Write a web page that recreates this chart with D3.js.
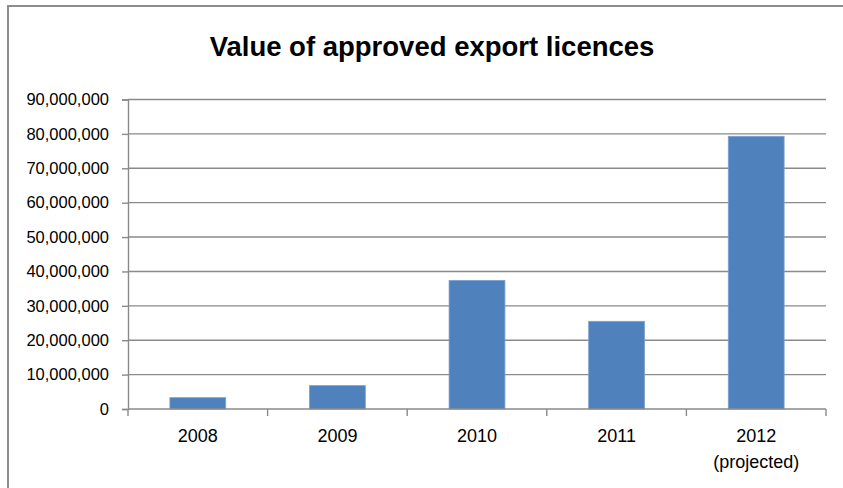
<!DOCTYPE html>
<html>
<head>
<meta charset="utf-8">
<script src="https://cdn.jsdelivr.net/npm/d3@7"></script>
<style>
  html, body { margin: 0; padding: 0; background: #fff; }
  svg { display: block; }
  text { font-family: "Liberation Sans", Arial, sans-serif; fill: #000; }
</style>
</head>
<body>
<svg id="chart" width="843" height="488"></svg>
<script>
const title = "Value of approved export licences";
const categories = ["2008", "2009", "2010", "2011", "2012"];
const categorySubLabels = ["", "", "", "", "(projected)"];
const values = [3300000, 6800000, 37400000, 25500000, 79300000];
const yTicks = [0, 10000000, 20000000, 30000000, 40000000, 50000000, 60000000, 70000000, 80000000, 90000000];

const W = 843, H = 488;
const margin = { left: 128, right: 17, top: 99.5, bottom: 79 };
const svg = d3.select("#chart");

// outer chart border (extends past the right and bottom edges)
svg.append("rect")
  .attr("x", 8).attr("y", 6)
  .attr("width", W + 20).attr("height", H + 20)
  .attr("fill", "#fff")
  .attr("stroke", "#8c8c8c")
  .attr("stroke-width", 2);

const x = d3.scaleBand()
  .domain(categories)
  .range([margin.left, W - margin.right])
  .paddingInner(0.6)
  .paddingOuter(0.3);

const y = d3.scaleLinear()
  .domain([0, 90000000])
  .range([H - margin.bottom, margin.top]);

// gridlines
svg.append("g")
  .selectAll("line")
  .data(yTicks.filter(d => d > 0))
  .join("line")
  .attr("x1", margin.left).attr("x2", W - margin.right)
  .attr("y1", d => y(d)).attr("y2", d => y(d))
  .attr("stroke", "#8a8a8a")
  .attr("stroke-width", 1.4);

// bars
svg.append("g")
  .selectAll("rect")
  .data(values)
  .join("rect")
  .attr("x", (d, i) => x(categories[i]))
  .attr("y", d => y(d))
  .attr("width", x.bandwidth())
  .attr("height", d => y(0) - y(d))
  .attr("fill", "#4f81bd")
  .attr("stroke", "#7da0cf")
  .attr("stroke-width", 0.8);

// y axis
const yAxis = d3.axisLeft(y)
  .tickValues(yTicks)
  .tickFormat(d3.format(","))
  .tickSize(6)
  .tickPadding(13);
const gy = svg.append("g")
  .attr("transform", `translate(${margin.left},0)`)
  .call(yAxis);
gy.select(".domain").attr("stroke", "#8a8a8a").attr("stroke-width", 1.4);
gy.selectAll(".tick line").attr("stroke", "#8a8a8a").attr("stroke-width", 1.4);
gy.selectAll(".tick text")
  .attr("font-family", "Liberation Sans, Arial, sans-serif")
  .attr("font-size", 16.5)
  .attr("fill", "#000");

// x axis baseline and tick marks at band boundaries
const boundaries = categories.map(c => x(c) - x.step() * x.paddingInner() / 2)
  .concat([W - margin.right]);
boundaries[0] = margin.left;
svg.append("line")
  .attr("x1", margin.left).attr("x2", W - margin.right)
  .attr("y1", y(0)).attr("y2", y(0))
  .attr("stroke", "#8a8a8a").attr("stroke-width", 1.4);
svg.append("g")
  .selectAll("line")
  .data(boundaries)
  .join("line")
  .attr("x1", d => d).attr("x2", d => d)
  .attr("y1", y(0)).attr("y2", y(0) + 7)
  .attr("stroke", "#8a8a8a").attr("stroke-width", 1.4);

// x labels
const xl = svg.append("g")
  .selectAll("text")
  .data(categories)
  .join("text")
  .attr("x", d => x(d) + x.bandwidth() / 2)
  .attr("y", 442)
  .attr("text-anchor", "middle")
  .attr("font-size", 18);
xl.append("tspan").text(d => d);
xl.append("tspan")
  .attr("x", d => x(d) + x.bandwidth() / 2)
  .attr("dy", 26)
  .text((d, i) => categorySubLabels[i]);

// title
svg.append("text")
  .attr("x", 432)
  .attr("y", 56)
  .attr("text-anchor", "middle")
  .attr("font-size", 27.5)
  .attr("font-weight", "bold")
  .text(title);
</script>
</body>
</html>
